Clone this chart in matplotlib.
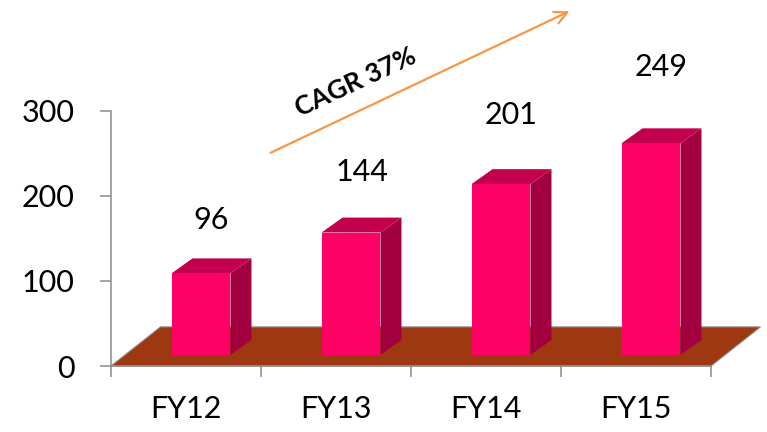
import numpy as np
import matplotlib
matplotlib.use('Agg')
from matplotlib import pyplot as plt
from matplotlib.patches import Polygon

plt.rcParams['font.family'] = ['Lato', 'DejaVu Sans']

years = ['FY12', 'FY13', 'FY14', 'FY15']
revenue = [96, 144, 201, 249]
y_ticks = [0, 100, 200, 300]
cagr_text = 'CAGR 37%'

front_color = '#FF0066'
top_color = '#C2004E'
side_color = '#A3003F'
floor_color = '#9E3810'
axis_color = '#8C8C8C'

# pseudo 3d geometry in data units
depth_x, depth_y = 0.14, 17.6
bar_w = 0.393
bar_shift = 0.1
bar_base = 13
floor_dx, floor_dy = 0.33, 46


def draw_box(ax, x0, w, y0, h):
    x1 = x0 + w
    y1 = y0 + h
    front = [(x0, y0), (x1, y0), (x1, y1), (x0, y1)]
    top = [(x0, y1), (x1, y1), (x1 + depth_x, y1 + depth_y), (x0 + depth_x, y1 + depth_y)]
    side = [(x1, y0), (x1 + depth_x, y0 + depth_y), (x1 + depth_x, y1 + depth_y), (x1, y1)]
    for pts, c in ((side, side_color), (top, top_color), (front, front_color)):
        ax.add_patch(Polygon(pts, closed=True, facecolor=c, edgecolor='none',
                             clip_on=False, zorder=3))


fig = plt.figure(figsize=(7.67, 4.32), dpi=100)
ax = fig.add_axes([111 / 767, 66 / 432, 600 / 767, 255 / 432])
ax.set_xlim(0, len(years))
ax.set_ylim(0, 300)

# floor
n = len(years)
floor = [(0, 0), (n, 0), (n + floor_dx, floor_dy), (floor_dx, floor_dy)]
ax.add_patch(Polygon(floor, closed=True, facecolor=floor_color,
                     edgecolor=axis_color, linewidth=0.8, clip_on=False, zorder=1))

for i, v in enumerate(revenue):
    x0 = i + 0.5 + bar_shift - bar_w / 2
    draw_box(ax, x0, bar_w, bar_base, v)
    ax.text(i + 0.5 + bar_shift + depth_x / 2, 59 + 1.176 * v, str(v),
            ha='center', va='center', fontsize=22, color='black', clip_on=False)

# growth arrow
ax.annotate('', xy=(3.073, 418.8), xytext=(1.047, 249.4),
            arrowprops=dict(arrowstyle='->,head_length=0.9,head_width=0.45',
                            color='#F79646', lw=1.6),
            annotation_clip=False)
ax.text(1.63, 334, cagr_text, rotation=25, ha='center', va='center',
        fontsize=19, fontweight='bold', color='black', rotation_mode='anchor')

ax.set_yticks(y_ticks)
ax.set_xticks(np.arange(n + 1))
ax.set_xticklabels([])
ax.set_xticks(np.arange(n) + 0.5, minor=True)
ax.set_xticklabels(years, minor=True)
ax.tick_params(axis='y', length=8, width=1.1, color=axis_color, pad=18, labelsize=22)
ax.tick_params(axis='x', which='major', length=8, width=1.1, color=axis_color)
ax.tick_params(axis='x', which='minor', length=0, pad=21, labelsize=22)
for lbl in ax.get_xticklabels(minor=True):
    lbl.set_x(lbl.get_position()[0])

for s in ('top', 'right'):
    ax.spines[s].set_visible(False)
for s in ('left', 'bottom'):
    ax.spines[s].set_color(axis_color)
    ax.spines[s].set_linewidth(1.1)
    ax.spines[s].set_zorder(2)

fig.savefig('out.png', dpi=100)
